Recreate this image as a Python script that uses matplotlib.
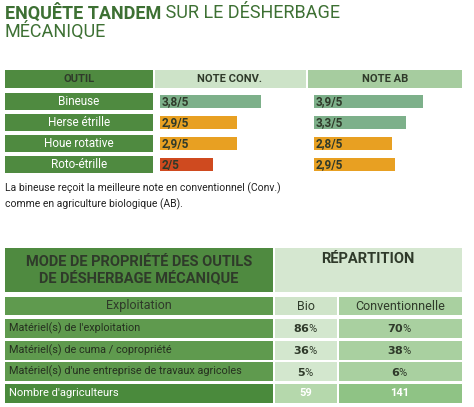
import matplotlib
matplotlib.use("Agg")
import matplotlib.pyplot as plt
from matplotlib.patches import Rectangle

tools = ["Bineuse", "Herse étrille", "Houe rotative", "Roto-étrille"]
note_conv = [3.8, 2.9, 2.9, 2.0]
note_ab = [3.9, 3.3, 2.8, 2.9]
own_labels = ["Matériel(s) de l'exploitation", "Matériel(s) de cuma / copropriété",
              "Matériel(s) d'une entreprise de travaux agricoles"]
bio_pct = [86, 36, 5]
conv_pct = [70, 38, 6]
n_bio, n_conv = 59, 141

fig = plt.figure(figsize=(4.74, 4.07), dpi=100)
ax = fig.add_axes([0, 0, 1, 1])
ax.set_xlim(0, 474); ax.set_ylim(407, 0); ax.axis("off")
F = "Roboto"
DG = "#4f8a40"; DK = "#2f3a2a"

def rect(x0, y0, x1, y1, c):
    ax.add_patch(Rectangle((x0, y0), x1 - x0, y1 - y0, color=c, lw=0))

t1 = ax.text(5, 13, "ENQUÊTE TANDEM", fontsize=13, fontweight="bold", color="#3d7033", family=F, va="center")
ax.annotate(" SUR LE DÉSHERBAGE", xy=(1, 0.5), xycoords=t1, va="center", fontsize=13,
            color="#3d7033", family=F)
ax.text(5, 31, "MÉCANIQUE", fontsize=13, color="#3d7033", family=F, va="center")

# score table
rect(5, 70, 153, 88, DG); rect(155, 70, 306, 88, "#cde3c8"); rect(308, 70, 462, 88, "#a6cc9f")
for x, t in [(79, "OUTIL"), (230, "NOTE CONV."), (385, "NOTE AB")]:
    ax.text(x, 79, t, ha="center", va="center", fontsize=8, fontweight="bold", color=DK, family=F)

def col(v):
    return "#7db08a" if v >= 3.3 else ("#e8a022" if v > 2.0 else "#cf4a1f")

for i, (t, c, a) in enumerate(zip(tools, note_conv, note_ab)):
    y0 = 93 + i * 21
    rect(5, y0, 153, y0 + 17, DG)
    ax.text(79, y0 + 8.5, t, ha="center", va="center", fontsize=8.5, color="white", family=F)
    ax.barh(y0 + 8.5, 26.5 * c, left=160, height=13, color=col(c))
    ax.barh(y0 + 8.5, 28 * a, left=314, height=13, color=col(a))
    ax.text(162, y0 + 9, f"{c:g}/5".replace(".", ","), va="center", fontsize=8.5, fontweight="bold", color=DK, family=F)
    ax.text(316, y0 + 9, f"{a:g}/5".replace(".", ","), va="center", fontsize=8.5, fontweight="bold", color=DK, family=F)

ax.text(5, 188, "La bineuse reçoit la meilleure note en conventionnel (Conv.)", fontsize=7.5, color="#222", family=F, va="center")
ax.text(5, 204, "comme en agriculture biologique (AB).", fontsize=7.5, color="#222", family=F, va="center")

# ownership table
rect(5, 248, 273, 292, DG); rect(275, 248, 462, 292, "#d5e7d0")
ax.text(139, 270, "MODE DE PROPRIÉTÉ DES OUTILS\nDE DÉSHERBAGE MÉCANIQUE", ha="center", va="center",
        fontsize=10.5, fontweight="bold", color=DK, family=F, linespacing=1.15)
ax.text(368, 259, "RÉPARTITION", ha="center", va="center", fontsize=10.5, fontweight="bold", color=DK, family=F)
rect(5, 297, 273, 315, "#5f9a4e"); rect(275, 297, 337, 315, "#cfe4c9"); rect(339, 297, 462, 315, "#a9d0a0")
ax.text(139, 306, "Exploitation", ha="center", va="center", fontsize=9, color=DK, family=F)
ax.text(306, 306, "Bio", ha="center", va="center", fontsize=9, color=DK, family=F)
ax.text(400, 306, "Conventionnelle", ha="center", va="center", fontsize=9, color=DK, family=F)
for i, (l, b, c) in enumerate(zip(own_labels, bio_pct, conv_pct)):
    y0 = 319 + i * 21.5
    rect(5, y0, 273, y0 + 19, "#5f9a4e"); rect(275, y0, 337, y0 + 19, "#d3e7ce"); rect(339, y0, 462, y0 + 19, "#a9d0a0")
    ax.text(9, y0 + 9.5, l, va="center", fontsize=7.8, color="#25301f", family=F)
    ax.text(306, y0 + 9.5, f"$\\bf{{{b}}}$%", ha="center", va="center", fontsize=8, color=DK, family=F)
    ax.text(400, y0 + 9.5, f"$\\bf{{{c}}}$%", ha="center", va="center", fontsize=8, color=DK, family=F)
y0 = 384
rect(5, y0, 273, 403, "#4a8a3c"); rect(275, y0, 337, 403, "#b5d8ac"); rect(339, y0, 462, 403, "#8fc385")
ax.text(9, y0 + 9.5, "Nombre d'agriculteurs", va="center", fontsize=8, color="white", family=F)
ax.text(306, y0 + 9.5, str(n_bio), ha="center", va="center", fontsize=8, fontweight="bold", color="white", family=F)
ax.text(400, y0 + 9.5, str(n_conv), ha="center", va="center", fontsize=8, fontweight="bold", color="white", family=F)

fig.savefig("out.png", dpi=100)
